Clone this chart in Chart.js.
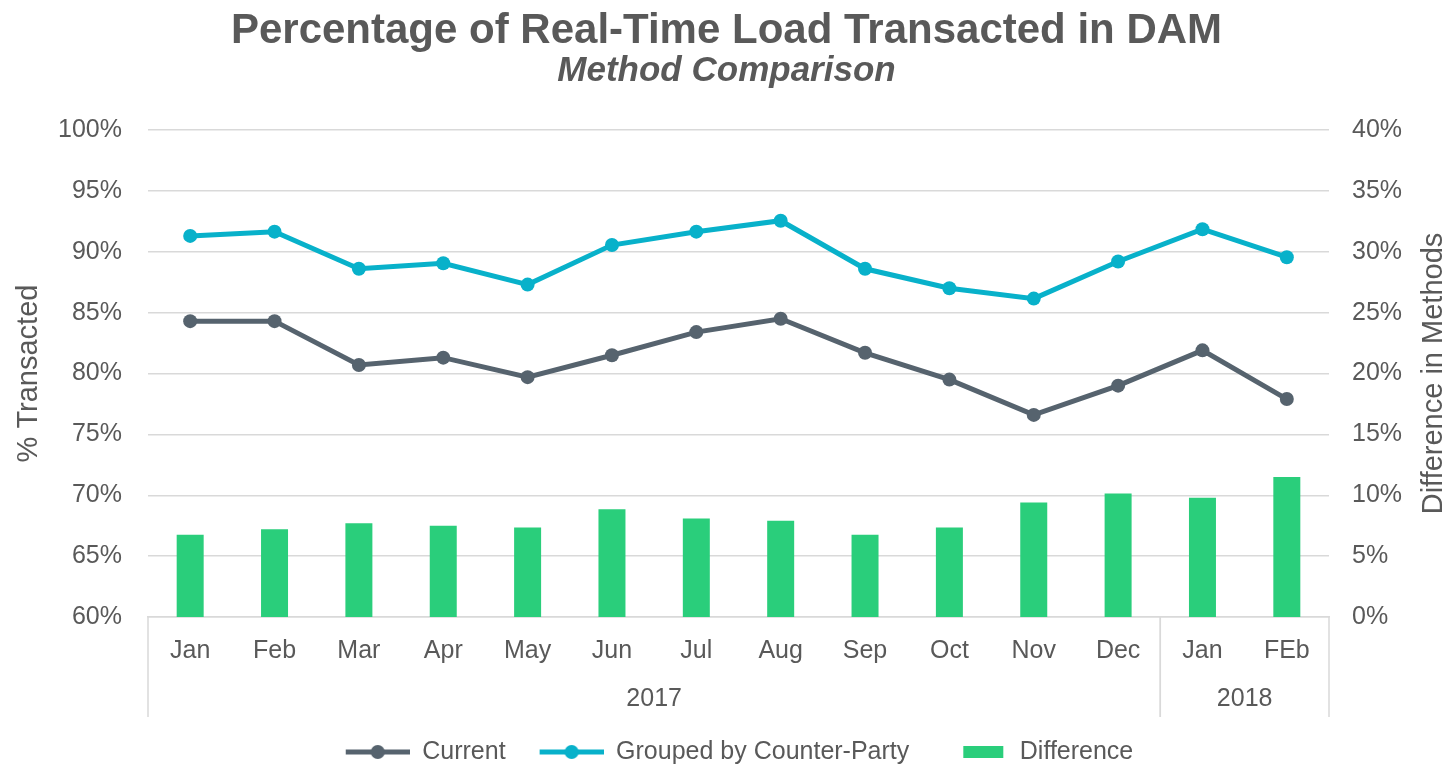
<!DOCTYPE html>
<html>
<head>
<meta charset="utf-8">
<script src="https://cdn.jsdelivr.net/npm/chart.js@4.4.1/dist/chart.umd.min.js"></script>
<style>
  html, body { margin: 0; padding: 0; background: #ffffff; }
  #wrap { width: 1453px; height: 767px; }
</style>
</head>
<body>
<div id="wrap"><canvas id="dam_chart"></canvas></div>
<script>
var months = ['Jan', 'Feb', 'Mar', 'Apr', 'May', 'Jun', 'Jul', 'Aug', 'Sep', 'Oct', 'Nov', 'Dec', 'Jan', 'FEb'];
var years = ['2017', '2018'];
var yearSpans = [12, 2];

// % transacted (left axis)
var current = [84.3, 84.3, 80.7, 81.3, 79.7, 81.5, 83.4, 84.5, 81.7, 79.5, 76.6, 79.0, 81.9, 77.9];
var grouped = [91.3, 91.65, 88.6, 89.05, 87.3, 90.55, 91.65, 92.55, 88.6, 87.0, 86.15, 89.2, 91.85, 89.55];
// difference in methods (right axis)
var difference = [6.75, 7.2, 7.7, 7.5, 7.35, 8.85, 8.1, 7.9, 6.75, 7.35, 9.4, 10.15, 9.8, 11.5];

var TEXT = '#595959';
var GRID = '#d9d9d9';
var C_CURRENT = '#56636e';
var C_GROUPED = '#08b1ca';
var C_DIFF = '#2ace7b';

function lineIcon(color) {
    var c = document.createElement('canvas');
    c.width = 90; c.height = 16;
    var g = c.getContext('2d');
    g.strokeStyle = color;
    g.lineWidth = 5;
    g.beginPath();
    g.moveTo(26, 8); g.lineTo(90, 8);
    g.stroke();
    g.fillStyle = color;
    g.beginPath();
    g.arc(58, 8, 7, 0, Math.PI * 2);
    g.fill();
    return c;
}

function boxIcon(color) {
    var c = document.createElement('canvas');
    c.width = 90; c.height = 16;
    var g = c.getContext('2d');
    g.fillStyle = color;
    g.fillRect(46, 2, 40, 12);
    return c;
}

var legendIcons = [lineIcon(C_CURRENT), lineIcon(C_GROUPED), boxIcon(C_DIFF)];

var yearRow = {
    id: 'yearRow',
    afterDraw: function (chart) {
        var ctx = chart.ctx;
        var x = chart.scales.x;
        var area = chart.chartArea;
        var half = (x.getPixelForValue(1) - x.getPixelForValue(0)) / 2;
        var start = 0;
        ctx.save();
        ctx.strokeStyle = GRID;
        ctx.lineWidth = 1.5;
        ctx.fillStyle = TEXT;
        ctx.font = '25px "Liberation Sans", Arial, sans-serif';
        ctx.textAlign = 'center';
        ctx.textBaseline = 'middle';
        for (var i = 0; i < years.length; i++) {
            var end = start + yearSpans[i] - 1;
            var l = x.getPixelForValue(start) - half;
            var r = x.getPixelForValue(end) + half;
            ctx.beginPath();
            ctx.moveTo(l, area.bottom); ctx.lineTo(l, area.bottom + 100);
            ctx.moveTo(r, area.bottom); ctx.lineTo(r, area.bottom + 100);
            ctx.stroke();
            ctx.fillText(years[i], (l + r) / 2, area.bottom + 82);
            start = end + 1;
        }
        // right axis title, reading bottom to top
        var y2 = chart.scales.y2;
        ctx.font = '29px "Liberation Sans", Arial, sans-serif';
        ctx.translate(y2.right - 19, (area.top + area.bottom) / 2);
        ctx.rotate(-Math.PI / 2);
        ctx.fillText('Difference in Methods', 0, 0);
        ctx.restore();
    }
};

function InitializeChart() {
    Chart.defaults.font.family = '"Liberation Sans", Arial, sans-serif';
    Chart.defaults.color = TEXT;

    var ctx = document.getElementById('dam_chart');

    var data = {
        labels: months,
        datasets: [{
            type: 'line',
            label: 'Current',
            data: current,
            yAxisID: 'y',
            borderColor: C_CURRENT,
            backgroundColor: C_CURRENT,
            borderWidth: 5,
            pointRadius: 7,
            pointBorderWidth: 0,
            tension: 0
        }, {
            type: 'line',
            label: 'Grouped by Counter-Party',
            data: grouped,
            yAxisID: 'y',
            borderColor: C_GROUPED,
            backgroundColor: C_GROUPED,
            borderWidth: 5,
            pointRadius: 7,
            pointBorderWidth: 0,
            tension: 0
        }, {
            type: 'bar',
            label: 'Difference',
            data: difference,
            yAxisID: 'y2',
            backgroundColor: C_DIFF,
            categoryPercentage: 1,
            barPercentage: 0.32
        }]
    };

    var config = {
        responsive: true,
        maintainAspectRatio: false,
        animation: false,
        layout: { padding: { left: 0, right: 0, top: 0, bottom: -7.5 } },
        plugins: {
            title: {
                display: true,
                text: 'Percentage of Real-Time Load Transacted in DAM',
                color: TEXT,
                font: { size: 42, weight: 'bold', lineHeight: 1.0 },
                padding: { top: 10, bottom: 0 }
            },
            subtitle: {
                display: true,
                text: 'Method Comparison',
                color: TEXT,
                font: { size: 35, weight: 'bold', style: 'italic', lineHeight: 1.0 },
                padding: { top: 2, bottom: 41 }
            },
            legend: {
                position: 'bottom',
                labels: {
                    usePointStyle: true,
                    pointStyleWidth: 90,
                    padding: 8,
                    color: TEXT,
                    font: { size: 25 },
                    generateLabels: function (chart) {
                        var items = Chart.defaults.plugins.legend.labels.generateLabels(chart);
                        items.forEach(function (it, i) { it.pointStyle = legendIcons[i]; });
                        return items;
                    }
                }
            },
            tooltip: { enabled: false }
        },
        scales: {
            x: {
                grid: { display: false },
                border: { display: true, color: GRID, width: 1.5 },
                ticks: { padding: 11, font: { size: 25 }, color: TEXT, maxRotation: 0, autoSkip: false },
                afterFit: function (scale) { scale.height = 114.5; }
            },
            y: {
                position: 'left',
                min: 60,
                max: 100,
                grid: { color: GRID, lineWidth: 1.5, drawTicks: false },
                border: { display: false },
                ticks: {
                    stepSize: 5,
                    padding: 26,
                    font: { size: 25 },
                    color: TEXT,
                    callback: function (v) { return v + '%'; }
                },
                title: {
                    display: true,
                    text: '% Transacted',
                    color: TEXT,
                    font: { size: 29 },
                    padding: { top: 11.6, bottom: 0 }
                },
                afterFit: function (scale) { scale.width = 148; }
            },
            y2: {
                position: 'right',
                min: 0,
                max: 40,
                grid: { display: false, drawTicks: false },
                border: { display: false },
                ticks: {
                    stepSize: 5,
                    padding: 23,
                    font: { size: 25 },
                    color: TEXT,
                    callback: function (v) { return v + '%'; }
                },
                afterFit: function (scale) { scale.width = 124; }
            }
        }
    };

    new Chart(ctx, {
        type: 'bar',
        data: data,
        options: config,
        plugins: [yearRow]
    });
}

InitializeChart();
</script>
</body>
</html>
